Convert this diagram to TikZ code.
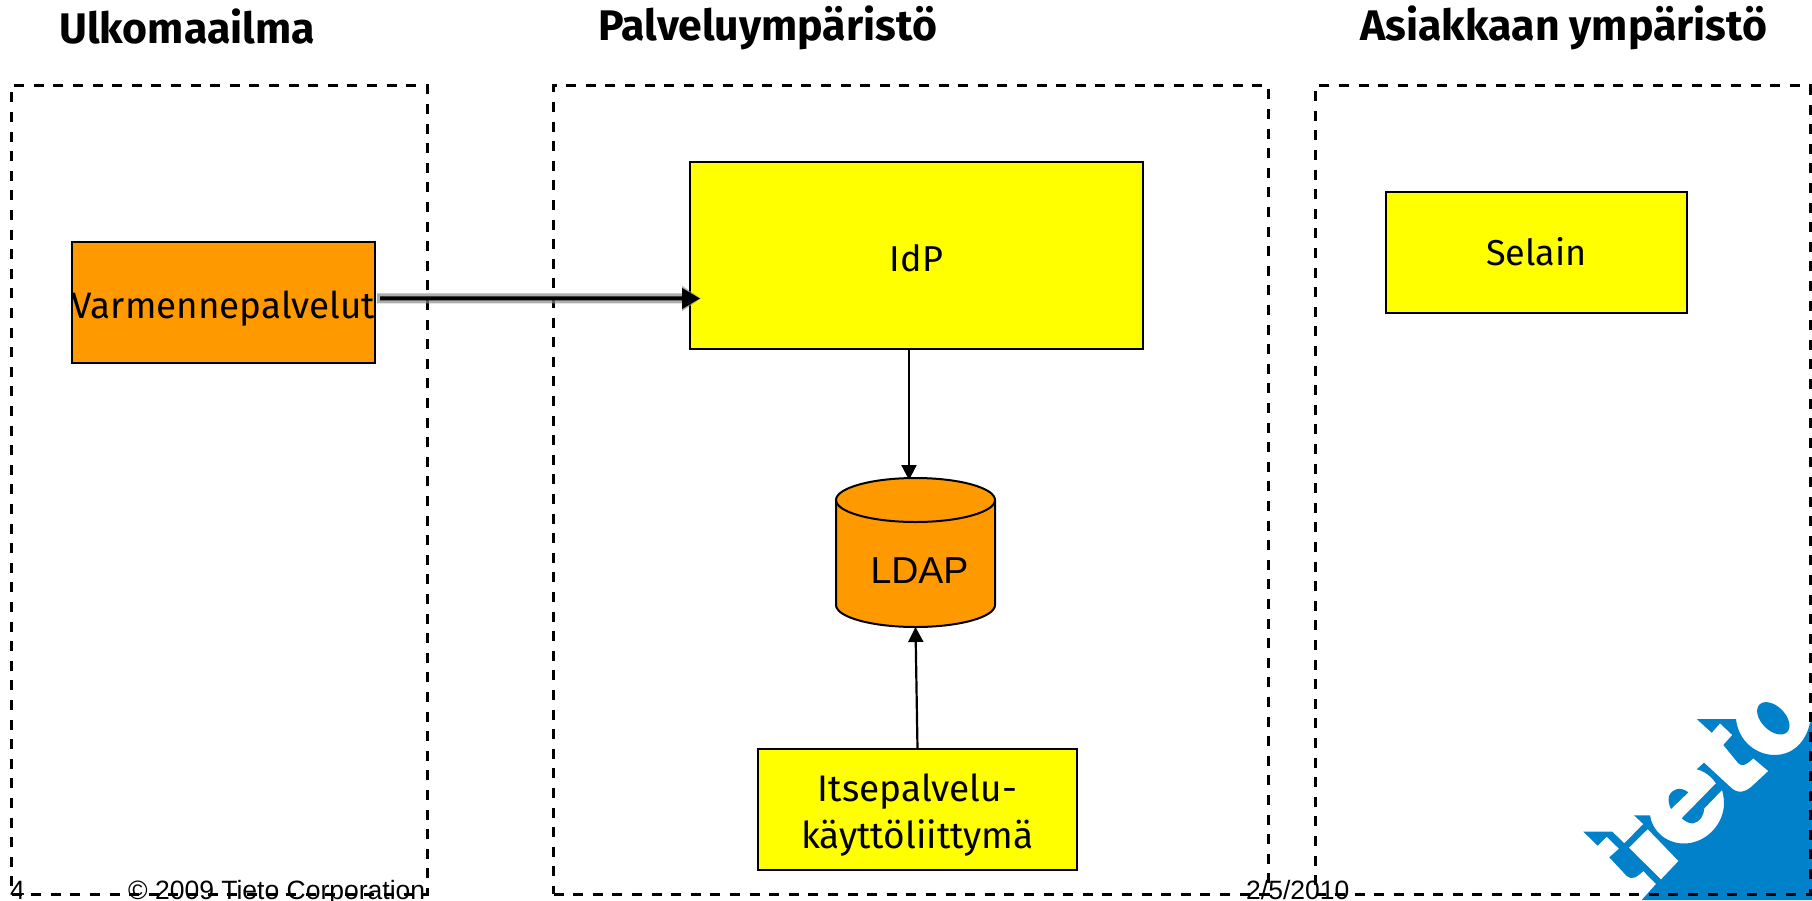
\documentclass[tikz,border=0pt]{standalone}
\usepackage{fontspec}
\usetikzlibrary{arrows.meta}
\setmainfont{Fira Sans}
\newfontfamily\arialf{Liberation Sans}
\definecolor{boxorange}{HTML}{FF9900}
\definecolor{boxyellow}{HTML}{FFFF00}
\definecolor{tietoblue}{HTML}{0081C9}
\tikzset{
  zone/.style={draw=black,line width=3pt,dash pattern=on 10pt off 9.6pt,inner sep=0pt,outer sep=0pt,anchor=north west},
  yellowbox/.style={draw=black,line width=2pt,fill=boxyellow,inner sep=0pt,outer sep=0pt},
  orangebox/.style={yellowbox,fill=boxorange},
  boxtext/.style={inner sep=0pt,text=black,font=\fontsize{36}{47}\selectfont,align=center},
  title/.style={anchor=base west,inner sep=0pt,font=\fontsize{42.8}{43}\selectfont\bfseries},
  foot/.style={anchor=base west,inner sep=0pt,font=\fontsize{26.5}{26.5}\selectfont\arialf},
  thin arrow/.style={draw=black,line width=2.2pt,-{Triangle[width=15pt,length=15pt]}},
  cyl/.style={draw=black,line width=2pt,fill=boxorange},
}
\begin{document}
\begin{tikzpicture}[x=1pt,y=-1pt]
\useasboundingbox (0,0) rectangle (1812,900);
% logo
\fill[tietoblue] (1583.3,831.7) -- (1612.3,831.7) -- (1624.3,843.3) -- (1643.3,824) -- (1634,815.3) -- (1650,815.3)
  .. controls (1652,830) and (1665,843) .. (1683,843.5)
  .. controls (1705,844) and (1724,825) .. (1724,803)
  .. controls (1724,798) and (1723,794) .. (1722,790)
  -- (1704.3,808.3) .. controls (1704,815) and (1700,822) .. (1693.3,823.3)
  .. controls (1689,824) and (1685,821) .. (1681.7,818.3)
  -- (1716,783.3) .. controls (1711,776) and (1704,771) .. (1696.7,769.3)
  -- (1704,762.7) -- (1730,786.7)
  .. controls (1738,795) and (1746,792) .. (1753.3,785)
  -- (1768.3,771) -- (1753.3,758.3)
  .. controls (1746,765) and (1742,767) .. (1738.3,763.3)
  -- (1723.3,745) -- (1732.3,735) -- (1720,723.3) -- (1711.7,732.7) -- (1696.7,719) -- (1736,719)
  .. controls (1738,740) and (1755,755) .. (1775,755)
  .. controls (1790,755) and (1805,745) .. (1810,723)
  -- (1812,720) -- (1812,900) -- (1641.7,900) -- (1656,884) -- (1643.3,871)
  .. controls (1636,878) and (1632,880) .. (1626.7,876)
  -- (1609.3,857.3) -- (1619,848.7) -- (1606.7,836.7) -- (1597.7,845.7) -- cycle;
\fill[white] (1629,847.7) -- (1647.7,829.3) -- (1678.3,861) -- (1661,879.3) -- cycle;
\fill[tietoblue] (1671,809) -- (1688.3,792.3) .. controls (1680,786) and (1672,789) .. (1669,796)
  .. controls (1668,801) and (1669,805) .. (1671,809) -- cycle;
\fill[tietoblue,rotate around={-45:(1773.3,718.3)}] (1773.3,718.3) ellipse [x radius=19.5pt,y radius=12pt];
% zones
\node[zone,minimum width=415.5pt,minimum height=808.5pt] (outer) at (11.5,85.5) {};
\node[zone,minimum width=714.5pt,minimum height=808.5pt] (service) at (553.5,85.5) {};
\node[zone,minimum width=494.5pt,minimum height=808.5pt] (client) at (1315.5,85.5) {};
% titles
\node[title] (t1) at (59,43) {Ulkomaailma};
\node[title] (t2) at (598,40) {Palveluympäristö};
\node[title] (t3) at (1360,40) {Asiakkaan ympäristö};
% boxes
\node[orangebox,minimum width=303pt,minimum height=121.5pt] (cert) at (223.5,302.25) {};
\node[boxtext,font=\fontsize{36.8}{47}\selectfont] (certtext) at (223.5,309) {Varmennepalvelut};
\node[yellowbox,minimum width=453pt,minimum height=187pt] (idp) at (916.5,255.5) {};
\node[boxtext] (idptext) at (916.5,258) {IdP};
\node[yellowbox,minimum width=301.5pt,minimum height=121pt] (browser) at (1536.25,252.5) {};
\node[boxtext] (browsertext) at (1536.25,251.5) {Selain};
\node[yellowbox,minimum width=319pt,minimum height=121pt] (self) at (917.5,809.5) {};
\node[boxtext,font=\fontsize{37}{47}\selectfont] (selftext) at (917.5,815) {Itsepalvelu-\\käyttöliittymä};
% connector under the cylinder
\node[minimum width=159pt,minimum height=149pt,inner sep=0pt,outer sep=0pt] (ldap) at (915.5,552.5) {};
\draw[thin arrow] ([xshift=-7.5pt]idp.south) -- ([xshift=-6.5pt,yshift=-2pt]ldap.north);
% cylinder
\draw[cyl] (836,500) .. controls (836,488) and (871.5,478) .. (ldap.north)
  .. controls (959.5,478) and (995,488) .. (995,500) -- (995,605)
  .. controls (995,617) and (959.5,627) .. (ldap.south)
  .. controls (871.5,627) and (836,617) .. (836,605) -- cycle;
\draw[cyl,fill=none] (836,500) .. controls (836,512) and (871.5,522) .. (915.5,522)
  .. controls (959.5,522) and (995,512) .. (995,500);
\node[inner sep=0pt,font=\fontsize{37.5}{38}\selectfont\arialf] (ldaplabel) at (919.5,571) {LDAP};
\draw[thin arrow] (self.north) -- (ldap.south);
% thick shadowed arrow
\draw[line width=10pt,draw=black!45,opacity=.7,-{Triangle[width=24pt,length=19pt]}] ([xshift=2pt,yshift=4pt]cert.east) -- ([xshift=11pt,yshift=-43pt]idp.west);
\draw[line width=4pt,draw=black,-{Triangle[width=20pt,length=18pt]}] ([xshift=5pt,yshift=4pt]cert.east) -- ([xshift=10pt,yshift=-43pt]idp.west);
% footer
\node[foot] (f1) at (10,899.8) {4};
\node[foot] (f2) at (128,899.8) {© 2009 Tieto Corporation};
\node[foot] (f3) at (1246,899.8) {2/5/2010};
\end{tikzpicture}
\end{document}
